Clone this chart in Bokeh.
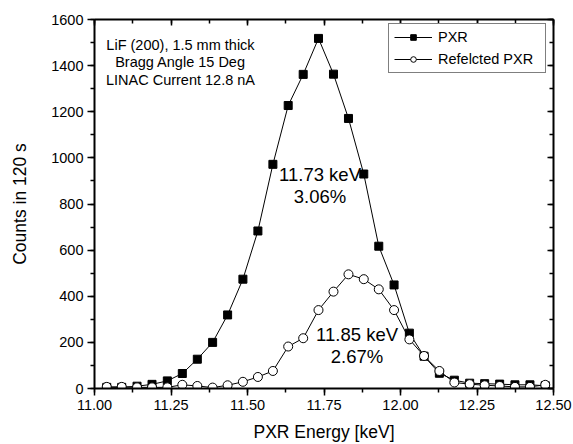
from bokeh.plotting import figure
from bokeh.models import (LinearAxis, Legend, LegendItem, Label, Range1d,
                          SingleIntervalTicker, NumeralTickFormatter,
                          CustomJSTickFormatter)
from bokeh.embed import file_html
from bokeh.resources import INLINE

# ---- data ----
energy_kev = [11.040, 11.089, 11.139, 11.188, 11.238, 11.287, 11.336, 11.386,
              11.435, 11.485, 11.534, 11.583, 11.633, 11.682, 11.732, 11.781,
              11.830, 11.880, 11.929, 11.979, 12.029, 12.077, 12.127, 12.176,
              12.226, 12.275, 12.324, 12.374, 12.423, 12.473]
pxr_counts = [5, 5, 10, 18, 33, 65, 127, 200, 319, 474, 683, 972, 1227, 1362,
              1518, 1363, 1171, 930, 617, 449, 240, 140, 66, 36, 23, 21, 19,
              16, 16, 12]
reflected_counts = [7, 7, 5, 5, 5, 16, 11, 4, 14, 29, 50, 76, 182, 218, 340,
                    420, 495, 474, 430, 340, 213, 141, 76, 26, 19, 14, 11, 7,
                    7, 16]
series_names = ["PXR", "Refelcted PXR"]
info_lines = ["LiF (200), 1.5 mm thick", "Bragg Angle 15 Deg",
              "LINAC Current 12.8 nA"]
pxr_note = ["11.73 keV", "3.06%"]
refl_note = ["11.85 keV", "2.67%"]

FONT = "Liberation Sans"

p = figure(width=573, height=444, output_backend="svg", toolbar_location=None,
           x_range=Range1d(11.0, 12.5), y_range=Range1d(0, 1600),
           min_border_left=94, min_border_right=20, min_border_top=19,
           min_border_bottom=55, x_axis_label="PXR Energy [keV]",
           y_axis_label="Counts in 120 s")
p.xgrid.visible = False
p.ygrid.visible = False
p.outline_line_color = None
p.background_fill_color = "white"
p.border_fill_color = "white"

for ax in p.xaxis:
    ax.ticker = SingleIntervalTicker(interval=0.25, num_minor_ticks=2)
    ax.formatter = NumeralTickFormatter(format="0.00")
for ax in p.yaxis:
    ax.ticker = SingleIntervalTicker(interval=200, num_minor_ticks=2)

def style_main(ax):
    ax.axis_line_width = 2
    ax.axis_line_color = "black"
    ax.major_tick_line_width = 1.5
    ax.minor_tick_line_width = 1.5
    ax.major_tick_out = 7
    ax.major_tick_in = 0
    ax.minor_tick_out = 4
    ax.minor_tick_in = 0
    ax.major_label_text_font = FONT
    ax.major_label_text_font_size = "14.5px"
    ax.major_label_text_color = "black"
    ax.axis_label_text_font = FONT
    ax.axis_label_text_font_size = "17.5px"
    ax.axis_label_text_font_style = "normal"
    ax.axis_label_text_color = "black"

for ax in p.xaxis:
    style_main(ax)
    ax.major_label_standoff = 4
    ax.axis_label_standoff = 9
for ax in p.yaxis:
    style_main(ax)
    ax.major_label_standoff = 4
    ax.axis_label_standoff = 18

def mirror_axis(ticker):
    a = LinearAxis(ticker=ticker,
                   formatter=CustomJSTickFormatter(code="return ''"))
    a.axis_line_width = 2
    a.axis_line_color = "black"
    a.major_tick_line_width = 1.5
    a.minor_tick_line_width = 1.5
    a.major_tick_in = 6
    a.major_tick_out = 0
    a.minor_tick_in = 4
    a.minor_tick_out = 0
    a.major_label_standoff = 0
    return a

p.add_layout(mirror_axis(SingleIntervalTicker(interval=0.25, num_minor_ticks=2)), "above")
p.add_layout(mirror_axis(SingleIntervalTicker(interval=200, num_minor_ticks=2)), "right")

# ---- series ----
l1 = p.line(energy_kev, pxr_counts, line_color="black", line_width=1)
s1 = p.scatter(energy_kev, pxr_counts, marker="square", size=8,
               fill_color="black", line_color="black")
l2 = p.line(energy_kev, reflected_counts, line_color="black", line_width=1)
s2 = p.scatter(energy_kev, reflected_counts, marker="circle", size=9,
               fill_color="white", line_color="black", line_width=1)

legend = Legend(items=[LegendItem(label=series_names[0], renderers=[l1, s1]),
                       LegendItem(label=series_names[1], renderers=[l2, s2])],
                location=(294, 315), orientation="vertical",
                border_line_color="black", border_line_width=1,
                background_fill_color="white", background_fill_alpha=1,
                label_text_font=FONT, label_text_font_size="14.5px",
                label_text_color="black", glyph_width=38, glyph_height=14,
                label_height=14, label_width=102, label_standoff=6,
                spacing=6, padding=5, margin=0)
p.add_layout(legend, "center")

def add_label(x, y, text, size):
    p.add_layout(Label(x=x, y=y, text=text, text_align="center",
                       text_baseline="middle", text_font=FONT,
                       text_font_size=size, text_color="black"))

for txt, yv in zip(info_lines, [1490, 1414, 1336]):
    add_label(11.281, yv, txt, "14.5px")
for txt, yv in zip(pxr_note, [927, 833]):
    add_label(11.737, yv, txt, "18.5px")
for txt, yv in zip(refl_note, [235, 137]):
    add_label(11.858, yv, txt, "18.5px")

open("out.html", "w").write(file_html(p, INLINE))
